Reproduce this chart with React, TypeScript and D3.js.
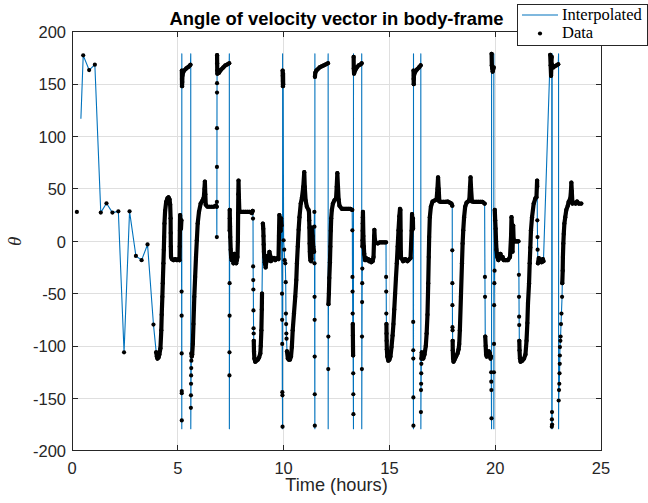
import React from 'react';
import * as d3 from 'd3';

type P = [number, number];

// ---- axis ticks ----
const xTicks = [0, 5, 10, 15, 20, 25];
const yTicks = [-200, -150, -100, -50, 0, 50, 100, 150, 200];

// ---- data (time in hours, angle in degrees) ----
// first sample, not joined by the interpolated curve
const firstSample: P[] = [[0.23, 28]];
// first point of the interpolated curve
const interpStart: P[] = [[0.42, 117]];

// points where the interpolated curve reaches +-180 (wrap-around)
const wrapEnds: P[] = [
  [5.189, -179], [5.19, 179], [5.612, 179], [5.614, -179],
  [7.435, 179], [7.437, -179], [9.952, -179], [9.953, 179],
  [11.478, -179], [11.479, 179], [12.105, 179], [12.107, -179],
  [13.302, -179], [13.303, 179], [13.692, 179], [13.694, -179],
  [16.138, -179], [16.139, 179], [16.485, 179], [16.487, -179],
  [19.828, -179], [19.829, 179], [19.935, 179], [19.936, -179],
  [22.672, 179], [22.673, -179], [22.692, -179], [22.693, 179],
  [22.995, 179], [22.996, -179],
];

// isolated samples
const sparse: P[] = [
  [0.53, 177.5], [0.81, 163.5], [1.08, 168.6], [1.36, 27.4], [1.63, 36.3],
  [1.91, 27.4], [2.19, 28.6], [2.46, -106], [2.72, 28.6], [3.02, -14],
  [3.29, -18], [3.57, -3], [3.85, -79.5],
  [5.18, -48], [5.182, -71], [5.184, -107], [5.186, -143], [5.187, -145], [5.188, -171],
  [5.618, -159], [5.622, -147], [5.626, -136], [5.63, -128], [5.635, -121], [5.64, -114],
  [6.845, 4], [6.847, 37.6], [6.849, 71], [6.851, 108], [6.853, 142], [6.855, 151],
  [7.44, -128], [7.443, -106], [7.446, -71], [7.449, -40],
  [8.555, 21.7], [8.56, -24], [8.565, -37], [8.57, -46], [8.575, -66], [8.58, -83], [8.585, -88],
  [9.925, -50], [9.93, -75], [9.935, -98], [9.94, -144], [9.945, -147], [9.95, -177],
  [10.0, 1], [10.03, -8], [10.05, -18], [10.08, -21], [10.1, -39], [10.11, -69],
  [10.12, -79], [10.13, -88], [10.14, -93],
  [11.455, 28], [11.458, 14], [11.461, -21], [11.464, -53], [11.467, -75], [11.47, -110],
  [11.473, -146], [11.476, -176],
  [12.11, -122], [12.115, -91],
  [13.25, 10.5], [13.255, -34], [13.26, -48], [13.265, -69],
  [13.29, -126], [13.295, -146], [13.3, -165],
  [13.7, -122], [13.705, -91], [13.71, -58], [13.715, -40], [13.72, -26],
  [14.845, -34], [14.85, -48], [14.855, -69],
  [16.125, -77], [16.128, -104], [16.13, -112], [16.133, -149], [16.136, -176],
  [16.49, -163], [16.495, -142], [16.5, -136], [16.505, -126], [16.51, -117],
  [17.972, -8.6], [17.975, -40], [17.978, -61], [17.98, -82], [17.985, -85],
  [19.515, -34], [19.52, -53],
  [19.81, -125], [19.815, -134], [19.82, -142], [19.825, -169],
  [19.94, -125], [19.945, -98], [19.95, -61], [19.96, -40], [19.97, -28],
  [21.12, -32], [21.125, -53], [21.13, -72], [21.135, -80],
  [21.99, 20], [22.0, 4], [22.005, -8],
  [22.675, -177], [22.68, -170], [22.685, -163], [22.69, -175],
  [23.0, -152], [23.016, -142], [23.03, -136], [23.04, -126], [23.05, -117],
  [23.055, -109], [23.06, -101], [23.08, -95], [23.09, -91], [23.11, -79],
  [23.13, -69], [23.16, -53],
];

// runs of densely packed samples
const denseRuns: P[][] = [
  [[3.98, -106], [4.01, -110], [4.04, -112], [4.09, -111], [4.13, -108], [4.18, -102],
   [4.22, -85], [4.24, -70], [4.27, -53], [4.29, -40], [4.32, -21], [4.34, -8],
   [4.355, 4], [4.37, 17], [4.4, 29], [4.45, 37.6], [4.51, 41], [4.56, 42], [4.61, 40],
   [4.64, 35], [4.66, 22], [4.665, 8], [4.67, -5], [4.68, -15], [4.72, -17], [4.8, -18],
   [4.88, -17], [4.95, -18], [5.03, -17], [5.08, -18], [5.09, -5], [5.1, 10], [5.11, 25],
   [5.13, 18], [5.15, 12], [5.17, 20]],
  [[5.192, 163], [5.195, 155], [5.2, 148], [5.21, 152], [5.22, 158], [5.25, 161],
   [5.3, 163], [5.4, 165], [5.5, 166.5], [5.6, 168.5]],
  [[5.645, -107], [5.66, -110], [5.68, -108], [5.71, -98], [5.74, -79], [5.78, -53],
   [5.82, -34], [5.86, -15], [5.9, 1], [5.94, 17], [6.0, 28], [6.08, 36], [6.17, 39],
   [6.23, 42], [6.26, 50], [6.28, 57], [6.3, 45], [6.32, 35], [6.4, 33], [6.5, 33],
   [6.6, 33], [6.7, 33], [6.8, 34], [6.84, 33]],
  [[6.857, 177.7], [6.86, 170], [6.865, 163], [6.87, 160], [6.95, 161], [7.05, 164],
   [7.15, 166], [7.25, 168], [7.35, 169], [7.43, 170]],
  [[7.452, 10], [7.455, 30], [7.46, 22], [7.47, 14], [7.48, 4], [7.5, -8], [7.52, -15],
   [7.55, -18], [7.6, -15], [7.63, -21], [7.67, -12], [7.7, -20], [7.73, -17], [7.76, -21],
   [7.79, -18], [7.82, -15], [7.84, 0], [7.85, 25], [7.86, 45], [7.87, 58], [7.89, 40],
   [7.91, 28], [8.0, 28], [8.1, 28], [8.2, 28], [8.3, 28], [8.4, 28], [8.5, 27], [8.54, 29]],
  [[8.59, -95], [8.6, -105], [8.62, -112], [8.66, -115], [8.72, -114], [8.78, -113],
   [8.84, -111], [8.9, -107], [8.92, -100], [8.95, -85], [8.97, -65], [8.98, -50]],
  [[9.02, 17], [9.04, 12], [9.05, 5], [9.06, -3], [9.07, -10], [9.09, -15], [9.11, -20],
   [9.13, -22], [9.15, -25], [9.18, -20], [9.21, -16], [9.25, -14], [9.29, -18],
   [9.33, -10], [9.37, -14], [9.4, -19], [9.44, -16], [9.5, -17], [9.55, -16], [9.6, -18],
   [9.65, -17], [9.7, -16], [9.76, -17], [9.78, 5], [9.8, 25], [9.82, 15], [9.84, 20],
   [9.86, 10], [9.88, 22], [9.9, 15]],
  [[9.955, 163], [9.96, 158], [9.965, 153], [9.97, 148], [9.975, 160], [9.98, 150]],
  [[10.16, -105], [10.2, -112], [10.25, -113], [10.3, -113], [10.35, -110], [10.39, -101],
   [10.43, -85], [10.49, -69], [10.55, -53], [10.6, -37], [10.63, -21], [10.67, -5],
   [10.71, 11], [10.75, 23], [10.81, 36], [10.87, 42], [10.93, 52], [10.976, 66], [11.0, 52],
   [11.04, 39], [11.1, 33], [11.18, 30], [11.2, 28], [11.21, 20], [11.22, 13], [11.23, -2],
   [11.24, -10], [11.25, -15], [11.27, -18], [11.3, -19], [11.32, -17], [11.34, 13],
   [11.37, 5], [11.4, -5], [11.44, -10]],
  [[11.48, 157], [11.5, 161], [11.55, 163], [11.6, 164], [11.7, 166], [11.8, 167],
   [11.9, 168], [12.0, 169], [12.1, 170]],
  [[12.12, -60], [12.14, -50], [12.16, -35], [12.19, -20], [12.21, -5], [12.23, 10],
   [12.25, 22], [12.28, 30], [12.33, 36], [12.4, 39], [12.48, 41], [12.51, 52], [12.54, 65],
   [12.57, 52], [12.6, 40], [12.64, 34], [12.75, 31], [12.85, 31], [12.95, 31], [13.05, 31],
   [13.15, 31], [13.24, 30]],
  [[13.27, -79], [13.275, -90], [13.28, -100], [13.285, -109]],
  [[13.31, 176], [13.315, 165], [13.33, 160], [13.38, 163], [13.46, 166], [13.55, 168],
   [13.65, 169], [13.69, 170]],
  [[13.725, -5], [13.73, 1], [13.735, 10], [13.74, 17], [13.745, 23], [13.75, 28],
   [13.77, 5], [13.79, -5], [13.81, -12], [13.85, -18], [13.9, -16], [13.95, -18],
   [14.0, -17], [14.05, -19], [14.1, -18], [14.15, -20], [14.21, -19], [14.25, -15],
   [14.28, 5], [14.29, 11], [14.31, 2], [14.35, -1], [14.45, -2], [14.55, -1], [14.65, -1],
   [14.75, -1], [14.84, -1]],
  [[14.86, -79], [14.865, -88], [14.87, -95], [14.88, -103], [14.9, -110], [14.95, -114],
   [15.0, -113], [15.05, -110], [15.1, -101], [15.15, -90], [15.19, -79], [15.23, -65],
   [15.27, -50], [15.31, -35], [15.35, -21], [15.39, -5], [15.43, 10.5], [15.47, 24],
   [15.5, 31], [15.52, 30], [15.53, 10], [15.54, -10], [15.55, -16], [15.6, -17],
   [15.65, -19], [15.7, -18], [15.75, -17], [15.8, -18], [15.85, -19], [15.9, -18],
   [15.95, -17], [16.0, -16], [16.05, 10], [16.07, 26], [16.09, 15], [16.11, 22], [16.12, 12]],
  [[16.14, 163], [16.145, 155], [16.15, 150], [16.16, 158], [16.2, 161], [16.3, 164],
   [16.4, 166], [16.48, 168]],
  [[16.515, -112], [16.53, -106], [16.56, -110], [16.6, -112], [16.66, -108], [16.72, -100],
   [16.76, -88], [16.8, -70], [16.835, -40], [16.86, -15], [16.88, 4], [16.91, 23],
   [16.96, 33], [17.04, 38], [17.15, 39], [17.23, 40], [17.27, 50], [17.3, 61], [17.33, 50],
   [17.36, 38], [17.45, 37.6], [17.55, 37.6], [17.65, 37.6], [17.75, 38], [17.85, 37],
   [17.93, 36], [17.97, 34]],
  [[17.99, -95], [17.995, -104], [18.01, -112], [18.03, -115], [18.08, -113], [18.15, -110],
   [18.22, -107], [18.27, -103], [18.3, -98], [18.33, -85], [18.38, -53], [18.43, -21],
   [18.46, -2], [18.49, 10.5], [18.53, 23], [18.58, 33], [18.65, 37], [18.72, 38],
   [18.78, 40], [18.81, 52], [18.835, 61], [18.86, 50], [18.9, 38], [19.0, 37.6],
   [19.1, 37.6], [19.2, 37.6], [19.3, 37.6], [19.4, 37.6], [19.5, 36]],
  [[19.53, -91], [19.55, -100], [19.57, -108], [19.6, -110], [19.65, -108], [19.7, -105],
   [19.75, -107], [19.78, -112], [19.8, -110]],
  [[19.83, 179], [19.84, 168], [19.86, 165], [19.88, 162], [19.9, 164], [19.93, 166]],
  [[19.98, 30], [20.0, 20], [20.02, 12], [20.04, 0], [20.06, -8], [20.1, -15], [20.15, -18],
   [20.2, -15], [20.25, -12], [20.3, -16], [20.35, -15], [20.4, -18], [20.5, -18],
   [20.6, -18], [20.7, -15], [20.75, 5], [20.77, 23], [20.8, 12], [20.82, -10], [20.85, 15],
   [20.87, 2], [20.9, 0], [20.95, 0], [21.0, 0], [21.05, 0], [21.1, 0]],
  [[21.14, -95], [21.15, -104], [21.17, -112], [21.2, -115], [21.28, -114], [21.36, -112],
   [21.43, -108], [21.48, -95], [21.52, -78], [21.55, -59], [21.6, -40], [21.63, -21],
   [21.66, -6], [21.69, 10.5], [21.74, 23], [21.82, 36], [21.9, 41], [21.95, 42],
   [21.98, 58], [21.985, 52]],
  [[22.02, -21], [22.06, -16], [22.1, -19], [22.15, -18], [22.2, -20], [22.25, -17], [22.28, -19]],
  [[22.6, 178], [22.62, 168], [22.64, 158], [22.66, 170], [22.67, 176]],
  [[22.7, 168], [22.75, 166], [22.8, 167], [22.9, 168], [22.98, 169]],
  [[23.17, -40], [23.19, -28], [23.2, -15], [23.22, -2], [23.24, 7], [23.27, 17],
   [23.31, 23], [23.36, 30], [23.43, 34], [23.47, 37.6], [23.55, 41], [23.58, 48],
   [23.6, 56], [23.62, 48], [23.65, 36], [23.71, 37], [23.8, 36], [23.87, 38],
   [23.95, 36], [24.07, 36]],
];

const W = 648;
const H = 503;
const L = 72, R = 601, T = 31.8, B = 450.8;
const BLUE = '#0072BD';
const AX = '#262626';

export default function App() {
  const x = d3.scaleLinear().domain([0, 25]).range([L, R]);
  const y = d3.scaleLinear().domain([-200, 200]).range([B, T]);

  const linePts: P[] = [...interpStart, ...sparse, ...denseRuns.flat(), ...wrapEnds]
    .sort((a, b) => a[0] - b[0]);
  const lineGen = d3.line<P>().x(d => x(d[0])).y(d => y(d[1]));
  const allDots: P[] = [...firstSample, ...sparse, ...denseRuns.flat()];

  const font = '"Liberation Sans", Arial, Helvetica, sans-serif';
  const serif = '"Liberation Serif", "Times New Roman", serif';
  const tickLen = 5.5;

  return (
    <svg width={W} height={H} style={{ position: 'absolute', left: 0, top: 0, display: 'block', background: '#fff' }}>
      <defs>
        <clipPath id="plotClip">
          <rect x={L} y={T} width={R - L} height={B - T} />
        </clipPath>
      </defs>
      <rect x={0} y={0} width={W} height={H} fill="#fff" />
      <rect x={L} y={T} width={R - L} height={B - T} fill="#fff" />
      {/* grid */}
      <g stroke="#dfdfdf" strokeWidth={1} shapeRendering="crispEdges">
        {xTicks.slice(1, -1).map(t => (
          <line key={'gx' + t} x1={x(t)} x2={x(t)} y1={T} y2={B} />
        ))}
        {yTicks.slice(1, -1).map(t => (
          <line key={'gy' + t} x1={L} x2={R} y1={y(t)} y2={y(t)} />
        ))}
      </g>
      {/* data */}
      <g clipPath="url(#plotClip)">
        <path d={lineGen(linePts) || ''} fill="none" stroke={BLUE} strokeWidth={1.1} strokeLinejoin="round" />
        {denseRuns.map((run, i) => (
          <path key={'r' + i} d={lineGen(run) || ''} fill="none" stroke="#000" strokeWidth={4.2}
            strokeLinejoin="round" strokeLinecap="round" />
        ))}
        {allDots.map((d, i) => (
          <circle key={'c' + i} cx={x(d[0])} cy={y(d[1])} r={2.1} fill="#000" />
        ))}
      </g>
      {/* axes box and ticks */}
      <g stroke={AX} strokeWidth={1} shapeRendering="crispEdges" fill="none">
        <rect x={L} y={T} width={R - L} height={B - T} />
        {xTicks.map(t => (
          <g key={'tx' + t}>
            <line x1={x(t)} x2={x(t)} y1={B} y2={B - tickLen} />
            <line x1={x(t)} x2={x(t)} y1={T} y2={T + tickLen} />
          </g>
        ))}
        {yTicks.map(t => (
          <g key={'ty' + t}>
            <line x1={L} x2={L + tickLen} y1={y(t)} y2={y(t)} />
            <line x1={R} x2={R - tickLen} y1={y(t)} y2={y(t)} />
          </g>
        ))}
      </g>
      {/* tick labels */}
      <g fontFamily={font} fontSize={16.5} fill={AX}>
        {xTicks.map(t => (
          <text key={'lx' + t} x={x(t)} y={474} textAnchor="middle">{t}</text>
        ))}
        {yTicks.map(t => (
          <text key={'ly' + t} x={66} y={y(t) + 6.2} textAnchor="end">{t}</text>
        ))}
      </g>
      {/* axis labels */}
      <text x={(L + R) / 2} y={490.5} textAnchor="middle" fontFamily={font} fontSize={18.2} fill={AX}>Time (hours)</text>
      <text transform={`translate(20.5, ${y(0)}) rotate(-90)`} textAnchor="middle" fontFamily={serif}
        fontStyle="italic" fontSize={19} fill={AX}>θ</text>
      {/* title */}
      <text x={(L + R) / 2} y={24.5} textAnchor="middle" fontFamily={font} fontWeight="bold" fontSize={18.4} fill="#000">
        Angle of velocity vector in body-frame
      </text>
      {/* legend */}
      <g>
        <rect x={517.5} y={4.5} width={130} height={41} fill="#fff" stroke={AX} strokeWidth={1} shapeRendering="crispEdges" />
        <line x1={522} x2={558} y1={15} y2={15} stroke={BLUE} strokeWidth={1.1} />
        <text x={562} y={19.5} fontFamily={serif} fontSize={16.5} fill="#000">Interpolated</text>
        <circle cx={540} cy={33.5} r={2.1} fill="#000" />
        <text x={562} y={37.5} fontFamily={serif} fontSize={16.5} fill="#000">Data</text>
      </g>
    </svg>
  );
}
